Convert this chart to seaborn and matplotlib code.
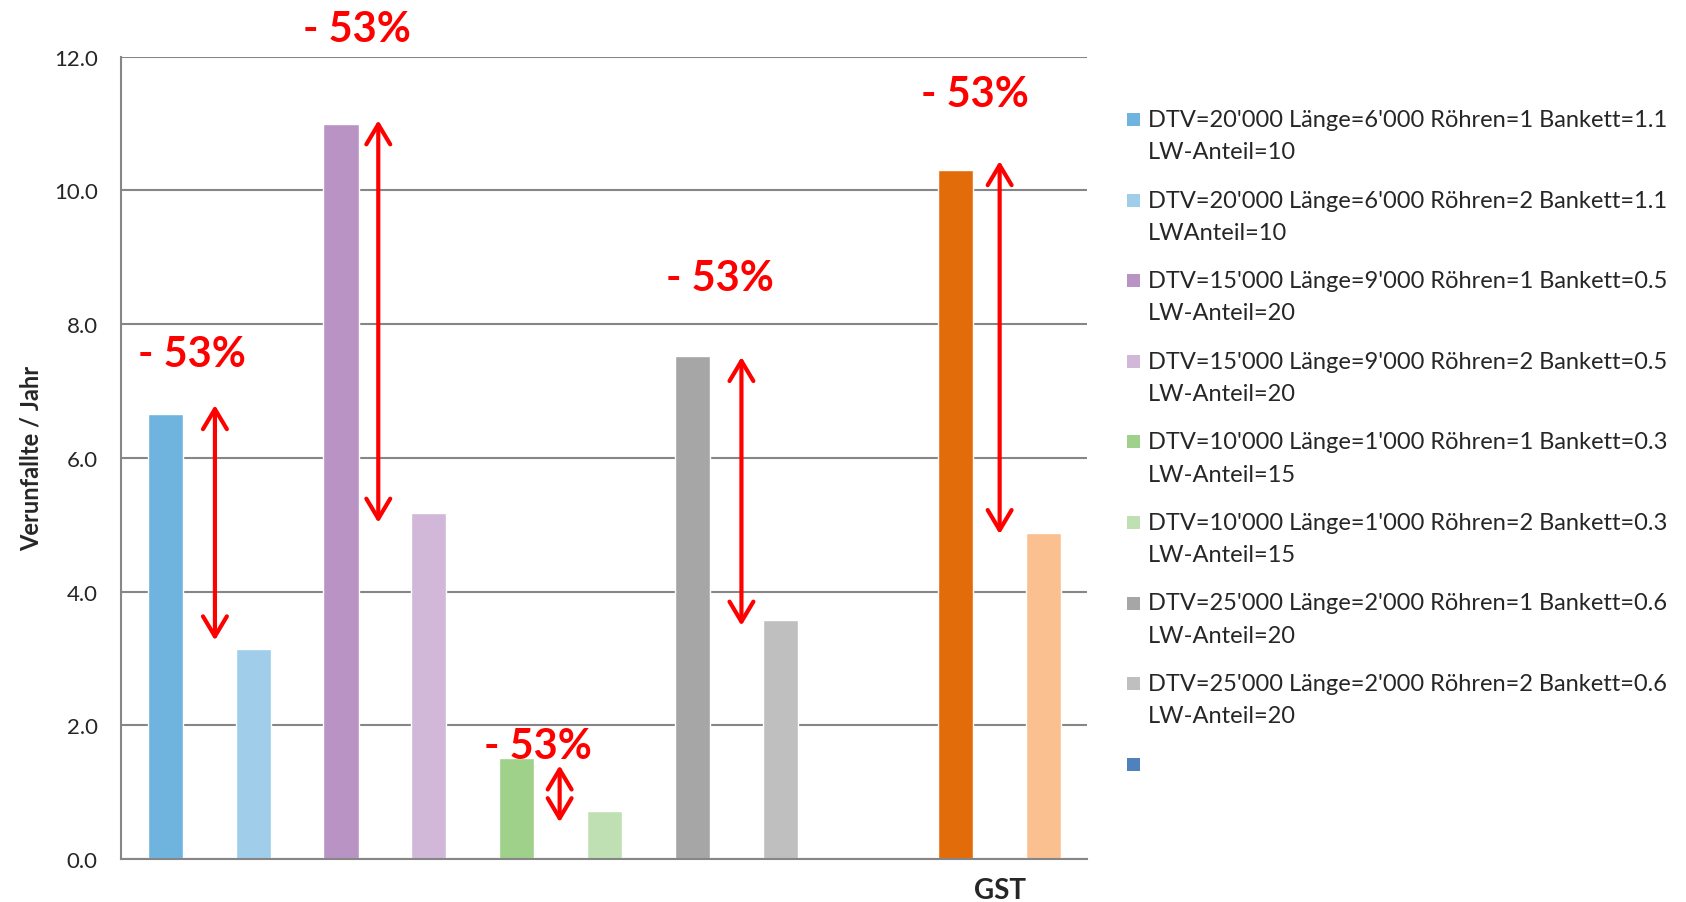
import numpy as np
import pandas as pd
import seaborn as sns
import matplotlib.pyplot as plt
from matplotlib.patches import Rectangle

# one category (GST), eleven slots; slot 9 is the empty dark-blue series
slots = ["s1", "s2", "s3", "s4", "s5", "s6", "s7", "s8", "s9", "s10", "s11"]
values = [6.66, 3.14, 10.99, 5.18, 1.51, 0.72, 7.53, 3.57, np.nan, 10.31, 4.87]
colors = ["#6EB4DE", "#9FCDEA", "#B893C3", "#D1B7D8", "#9FD18B", "#BFE0B2",
          "#A6A6A6", "#BFBFBF", "#4F81BD", "#E36C0A", "#FAC090"]
legend_labels = [
    "DTV=20'000 Länge=6'000 Röhren=1 Bankett=1.1\nLW-Anteil=10",
    "DTV=20'000 Länge=6'000 Röhren=2 Bankett=1.1\nLWAnteil=10",
    "DTV=15'000 Länge=9'000 Röhren=1 Bankett=0.5\nLW-Anteil=20",
    "DTV=15'000 Länge=9'000 Röhren=2 Bankett=0.5\nLW-Anteil=20",
    "DTV=10'000 Länge=1'000 Röhren=1 Bankett=0.3\nLW-Anteil=15",
    "DTV=10'000 Länge=1'000 Röhren=2 Bankett=0.3\nLW-Anteil=15",
    "DTV=25'000 Länge=2'000 Röhren=1 Bankett=0.6\nLW-Anteil=20",
    "DTV=25'000 Länge=2'000 Röhren=2 Bankett=0.6\nLW-Anteil=20",
    "",
]
category = "GST"
y_ticks = [0, 2, 4, 6, 8, 10, 12]

# "- 53%" annotations: text position, arrow x, arrow top/bottom
note_text = "- 53%"
note_x = [0.30, 2.18, 4.24, 6.32, 9.22]
note_y = [7.56, 12.42, 1.69, 8.69, 11.45]
arrow_x = [0.565, 2.425, 4.49, 6.56, 9.5]
arrow_top = [6.79, 11.05, 1.40, 7.51, 10.44]
arrow_bot = [3.27, 5.03, 0.55, 3.49, 4.86]

sns.set_style("white")
plt.rcParams['font.family'] = ['Lato', 'DejaVu Sans']

df = pd.DataFrame({"slot": slots, "value": values})
grid_c = "#868686"

fig = plt.figure(figsize=(16.86, 9.03), dpi=100)
ax = fig.add_axes([0.072, 0.0476, 0.645 - 0.072, 0.936 - 0.0476])
sns.barplot(data=df, x="slot", y="value", hue="slot", order=slots,
            palette=dict(zip(slots, colors)), width=0.4, errorbar=None,
            legend=False, ax=ax, saturation=1)

ax.set_xlim(-0.5, len(slots) - 0.5)
ax.set_ylim(0, 12)
ax.set_yticks(y_ticks)
ax.set_yticklabels([f"{t:.1f}" for t in y_ticks], fontsize=16)
ax.set_xticks([9.5])
ax.set_xticklabels([category], fontsize=20, fontweight="bold")
ax.tick_params(axis="x", length=0, pad=13)
ax.tick_params(axis="y", length=9, width=1.5, color=grid_c, pad=8)
ax.set_xlabel("")
ax.set_ylabel("Verunfallte / Jahr", fontsize=17, fontweight="bold", labelpad=8)
ax.yaxis.grid(True, color=grid_c, lw=1.5)
ax.set_axisbelow(True)
for s in ["top", "right"]:
    ax.spines[s].set_visible(False)
for s in ["left", "bottom"]:
    ax.spines[s].set_color(grid_c)
    ax.spines[s].set_linewidth(1.5)

for tx, ty, axx, at, ab in zip(note_x, note_y, arrow_x, arrow_top, arrow_bot):
    ax.text(tx, ty, note_text, color="red", fontsize=30, fontweight="bold",
            ha="center", va="center", clip_on=False)
    ax.annotate("", xy=(axx, at), xytext=(axx, ab),
                arrowprops=dict(arrowstyle="<->,head_length=0.72,head_width=0.43",
                                color="red", lw=3, mutation_scale=20,
                                shrinkA=0, shrinkB=0))

# legend drawn like the Excel one: square aligned with the first line
W, H = 1686, 903
y0, pitch, line2 = 120.4, 80.6, 32.3
for i, (lab, c) in enumerate(zip(legend_labels, colors)):
    yc = y0 + i * pitch
    fig.add_artist(Rectangle((1127 / W, 1 - (yc + 6.5) / H), 13 / W, 13 / H,
                             transform=fig.transFigure, color=c, lw=0))
    lines = lab.split("\n")
    for j, ln in enumerate(lines):
        if ln:
            fig.text(1148 / W, 1 - (yc + j * line2) / H, ln, fontsize=17,
                     ha="left", va="center")

fig.savefig("out.png", dpi=100)
